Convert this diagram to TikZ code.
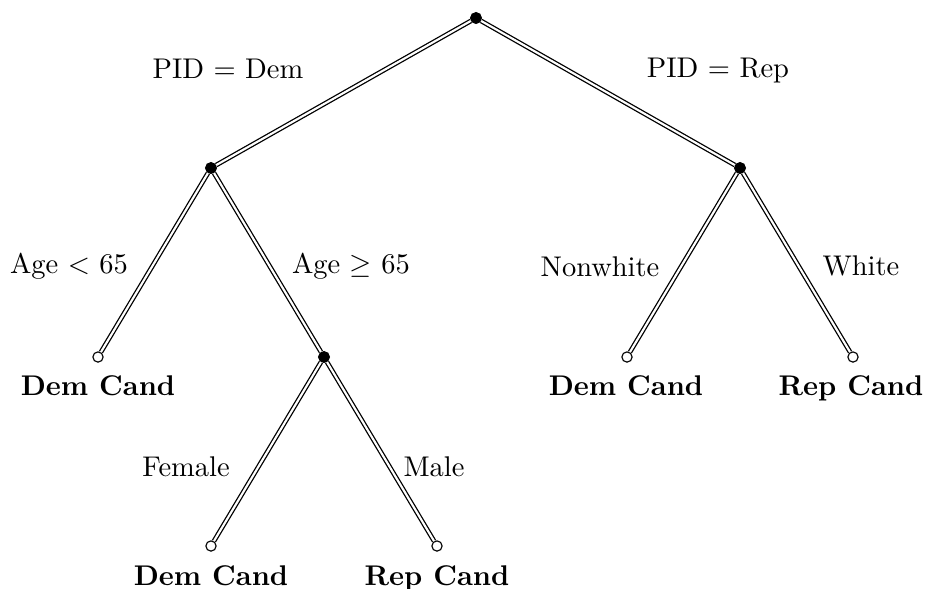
\documentclass[tikz,border=0pt]{standalone}
\begin{document}
\begin{tikzpicture}[x=0.351pt,y=-0.351pt,
  innode/.style={circle,fill=black,draw=black,inner sep=0pt,minimum size=3.8pt},
  leafnode/.style={circle,fill=white,draw=black,line width=0.4pt,inner sep=0pt,minimum size=3.6pt},
  dline/.style={double,line width=0.45pt,double distance=0.75pt},
  edgelab/.style={anchor=base,inner sep=0pt},
  outcome/.style={anchor=base,inner sep=0pt,font=\bfseries}]
\useasboundingbox (0,0) rectangle (928,588);
\node[innode] (r) at (476,18) {};
\node[innode] (l) at (211,168) {};
\node[innode] (rr) at (740,168) {};
\node[leafnode] (ll) at (98,357) {};
\node[innode] (lr) at (324,357) {};
\node[leafnode] (rl) at (627,357) {};
\node[leafnode] (rrr) at (853,357) {};
\node[leafnode] (lrl) at (211,546) {};
\node[leafnode] (lrr) at (437,546) {};
\draw[dline] (r) -- (l);
\draw[dline] (r) -- (rr);
\draw[dline] (l) -- (ll);
\draw[dline] (l) -- (lr);
\draw[dline] (rr) -- (rl);
\draw[dline] (rr) -- (rrr);
\draw[dline] (lr) -- (lrl);
\draw[dline] (lr) -- (lrr);
\node[edgelab] (t1) at (228,78) {PID $=$ Dem};
\node[edgelab] (t2) at (718,77) {PID $=$ Rep};
\node[edgelab] (t3) at (69,273) {Age $<$ 65};
\node[edgelab] (t4) at (351,273) {Age $\geq$ 65};
\node[edgelab] (t5) at (600,276) {Nonwhite};
\node[edgelab] (t6) at (861,275) {White};
\node[edgelab] (t7) at (186,476) {Female};
\node[edgelab] (t8) at (434,476) {Male};
\node[outcome] (o1) at (98,395) {Dem Cand};
\node[outcome] (o2) at (626,395) {Dem Cand};
\node[outcome] (o3) at (851,395) {Rep Cand};
\node[outcome] (o4) at (211,585) {Dem Cand};
\node[outcome] (o5) at (437,585) {Rep Cand};
\end{tikzpicture}
\end{document}
